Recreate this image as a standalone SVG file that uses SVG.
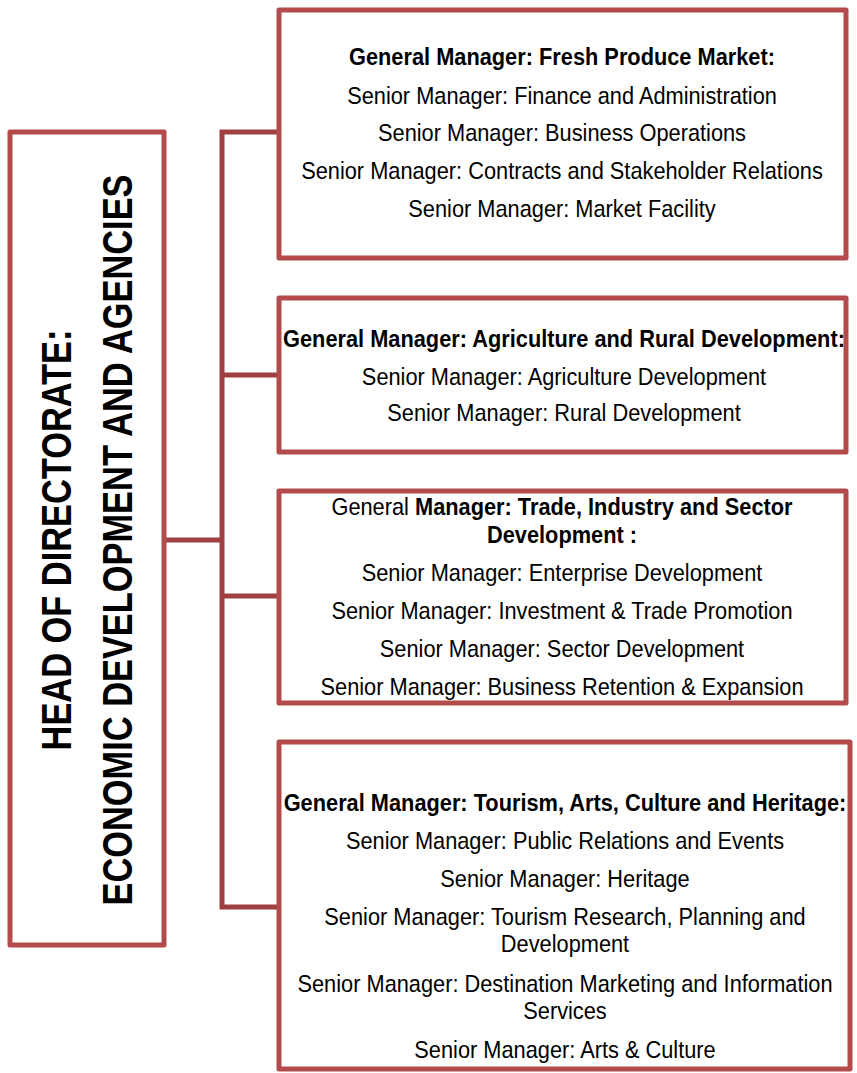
<svg xmlns="http://www.w3.org/2000/svg" width="857" height="1073" viewBox="0 0 857 1073">
<style>
.box{fill:#ffffff;stroke:#b34b4b;stroke-width:5;stroke-linejoin:round}
.conn{fill:none;stroke:#9f3f3f;stroke-width:5;stroke-linejoin:miter}
text{font-family:"Liberation Sans",Arial,sans-serif;fill:#000000;text-anchor:middle}
.t{font-size:24px}
.b{font-size:24px;font-weight:bold}
.h{font-size:43px;font-weight:bold}
</style>
<rect width="857" height="1073" fill="#ffffff"/>
<g id="connectors">
<path class="conn" d="M164,540 H222"/>
<path class="conn" d="M279,132 H222 V907 H279"/>
<path class="conn" d="M222,375 H279"/>
<path class="conn" d="M222,596 H279"/>
</g>
<g id="head">
<rect class="box" x="10" y="132" width="154" height="813"/>
<text class="h" transform="translate(71,540) rotate(-90) scale(0.8,1)" x="0" y="0">HEAD OF DIRECTORATE:</text>
<text class="h" transform="translate(132,540) rotate(-90) scale(0.8,1)" x="0" y="0">ECONOMIC DEVELOPMENT AND AGENCIES</text>
</g>
<g id="fresh-produce">
<rect class="box" x="279" y="10" width="567" height="248"/>
<g transform="translate(562 0) scale(0.908 1)">
<text class="b" x="0" y="65">General Manager: Fresh Produce Market:</text>
<text class="t" x="0" y="104">Senior Manager: Finance and Administration</text>
<text class="t" x="0" y="141">Senior Manager: Business Operations</text>
<text class="t" x="0" y="179">Senior Manager: Contracts and Stakeholder Relations</text>
<text class="t" x="0" y="217">Senior Manager: Market Facility</text>
</g>
</g>
<g id="agriculture">
<rect class="box" x="279" y="298" width="567" height="154"/>
<g transform="translate(564 0) scale(0.908 1)">
<text class="b" x="0" y="347">General Manager: Agriculture and Rural Development:</text>
<text class="t" x="0" y="385">Senior Manager: Agriculture Development</text>
<text class="t" x="0" y="421">Senior Manager: Rural Development</text>
</g>
</g>
<g id="trade">
<rect class="box" x="279" y="491" width="567" height="212"/>
<g transform="translate(562 0) scale(0.908 1)">
<text class="t" x="0" y="515">General <tspan font-weight="bold">Manager: Trade, Industry and Sector</tspan></text>
<text class="b" x="0" y="543">Development :</text>
<text class="t" x="0" y="581">Senior Manager: Enterprise Development</text>
<text class="t" x="0" y="619">Senior Manager: Investment &amp; Trade Promotion</text>
<text class="t" x="0" y="657">Senior Manager: Sector Development</text>
<text class="t" x="0" y="695">Senior Manager: Business Retention &amp; Expansion</text>
</g>
</g>
<g id="tourism">
<rect class="box" x="279" y="742" width="571" height="327"/>
<g transform="translate(565 0) scale(0.908 1)">
<text class="b" x="0" y="811">General Manager: Tourism, Arts, Culture and Heritage:</text>
<text class="t" x="0" y="849">Senior Manager: Public Relations and Events</text>
<text class="t" x="0" y="887">Senior Manager: Heritage</text>
<text class="t" x="0" y="925">Senior Manager: Tourism Research, Planning and</text>
<text class="t" x="0" y="952">Development</text>
<text class="t" x="0" y="992">Senior Manager: Destination Marketing and Information</text>
<text class="t" x="0" y="1019">Services</text>
<text class="t" x="0" y="1058">Senior Manager: Arts &amp; Culture</text>
</g>
</g>
</svg>
